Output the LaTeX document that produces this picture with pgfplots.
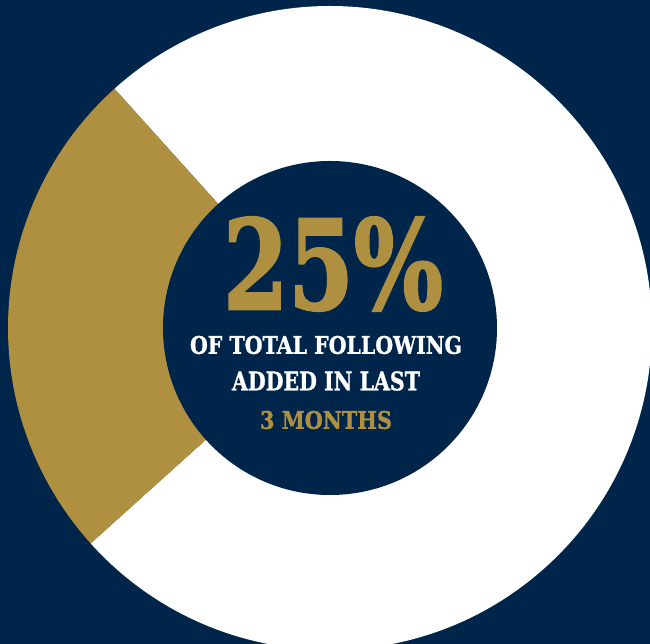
\documentclass[border=0pt]{standalone}
\usepackage{pgfplots}
\pgfplotsset{compat=1.18}
\usepackage{pgfplotstable}
\usepackage{graphicx}
\usepackage{fontspec}
\setmainfont{DejaVu Serif}
\newfontfamily\heavy{DejaVu Serif Bold}[FakeBold=2]
\newfontfamily\semiheavy{DejaVu Serif Bold}[FakeBold=1.2]

\definecolor{navy}{HTML}{00254B}
\definecolor{gold}{HTML}{AF9041}

% share of total following
\pgfplotstableread{
part    share
added   25
earlier 75
}\sharetable

\begin{document}
\begin{tikzpicture}
	\pgfplotstablegetelem{0}{share}\of\sharetable
	\pgfmathsetmacro\sa{\pgfplotsretval*3.6}
	\pgfplotstablegetelem{1}{share}\of\sharetable
	\pgfmathsetmacro\sb{\pgfplotsretval*3.6}
	\pgfmathsetmacro\sstart{132}
	\pgfmathsetmacro\smid{\sstart+\sa}
	\begin{axis}[
		scale only axis,
		width=650pt, height=644pt,
		xmin=-330, xmax=320,
		ymin=-316, ymax=328,
		axis line style={draw=none},
		xtick=\empty, ytick=\empty,
		axis background/.style={fill=navy},
		clip=true,
	]
		% white part (earlier followers)
		\fill[white] (axis cs:0,0) -- ++(\smid:322pt)
			arc[start angle=\smid, delta angle=\sb, radius=322pt] -- cycle;
		% gold part (added in last 3 months)
		\fill[gold] (axis cs:0,0) -- ++(\sstart:322pt)
			arc[start angle=\sstart, delta angle=\sa, radius=322pt] -- cycle;
		% hole
		\fill[navy] (axis cs:0,0) circle[radius=167pt];
		\node[inner sep=0, text=gold] at (axis cs:3,64)
			{\resizebox{220pt}{92pt}{\heavy 25\%}};
		\node[inner sep=0, text=white] at (axis cs:-4,-17)
			{\resizebox{272pt}{18pt}{\semiheavy OF TOTAL FOLLOWING}};
		\node[inner sep=0, text=white] at (axis cs:-4,-53)
			{\resizebox{188pt}{19pt}{\semiheavy ADDED IN LAST}};
		\node[inner sep=0, text=gold] at (axis cs:-4,-92)
			{\resizebox{132pt}{18pt}{\semiheavy 3 MONTHS}};
	\end{axis}
	\pgfresetboundingbox
	\path[use as bounding box] (current axis.south west) rectangle (current axis.north east);
\end{tikzpicture}
\end{document}
